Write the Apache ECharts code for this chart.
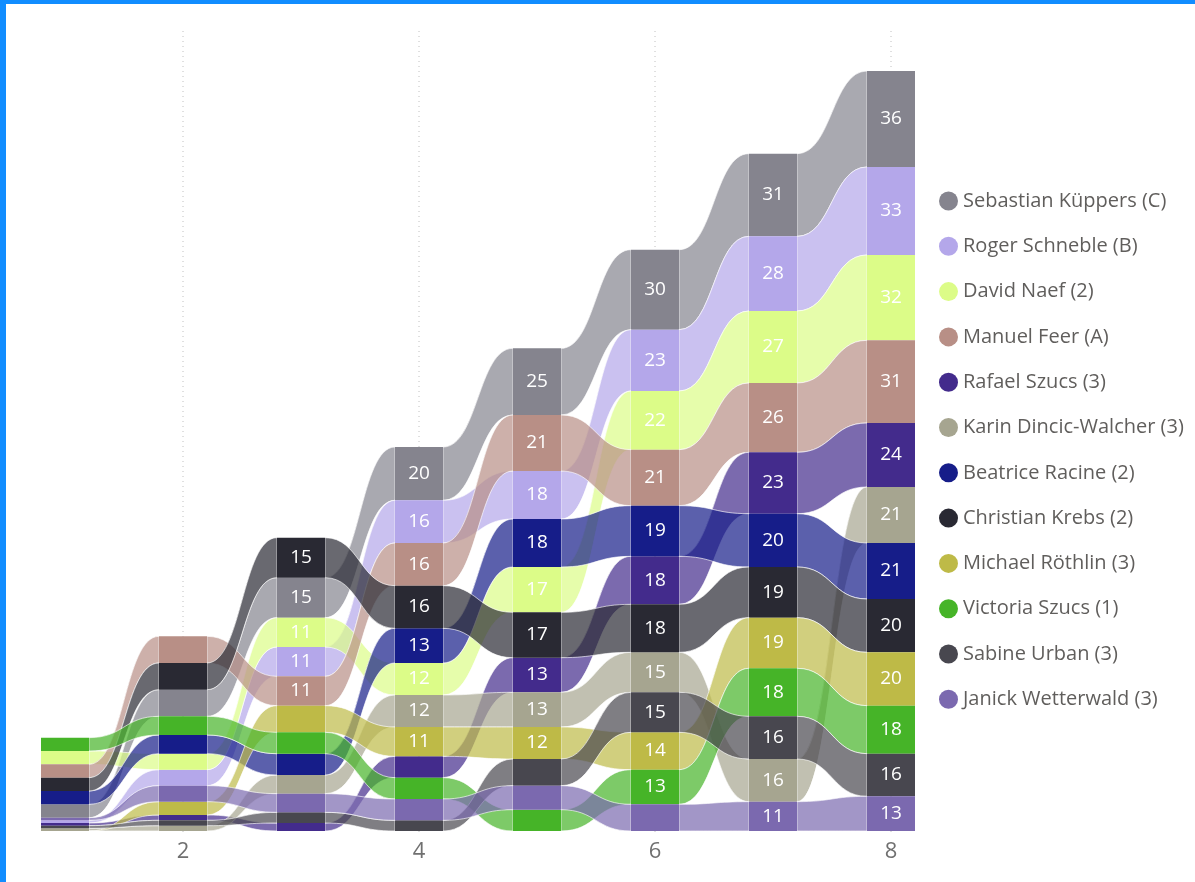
<!DOCTYPE html>
<html><head><meta charset="utf-8">
<script src="https://cdn.jsdelivr.net/npm/echarts@6/dist/echarts.min.js"></script>
<style>
html,body{margin:0;padding:0;background:#fff;overflow:hidden;}
#chart{position:absolute;left:0;top:0;width:1195px;height:882px;}
#bt{position:absolute;left:0;top:0;width:1195px;height:4px;background:#118DFF;}
#bl{position:absolute;left:0;top:0;width:6px;height:882px;background:#118DFF;}
</style></head><body>
<div id="chart"></div><div id="bt"></div><div id="bl"></div>
<script>
// ---- data ----
const rounds = ['1', '2', '3', '4', '5', '6', '7', '8'];
const names = [
  'Sebastian Küppers (C)', 'Roger Schneble (B)', 'David Naef (2)', 'Manuel Feer (A)',
  'Rafael Szucs (3)', 'Karin Dincic-Walcher (3)', 'Beatrice Racine (2)', 'Christian Krebs (2)',
  'Michael Röthlin (3)', 'Victoria Szucs (1)', 'Sabine Urban (3)', 'Janick Wetterwald (3)'
];
const sebastian = [5, 10, 15, 20, 25, 30, 31, 36];
const roger     = [1, 6, 11, 16, 18, 23, 28, 33];
const david     = [5, 6, 11, 12, 17, 22, 27, 32];
const manuel    = [5, 10, 11, 16, 21, 21, 26, 31];
const rafael    = [1, 2, 3, 8, 13, 18, 23, 24];
const karin     = [1, 2, 7, 12, 13, 15, 16, 21];
const beatrice  = [5, 7, 8, 13, 18, 19, 20, 21];
const christian = [5, 10, 15, 16, 17, 18, 19, 20];
const michael   = [0, 5, 10, 11, 12, 14, 19, 20];
const victoria  = [5, 7, 8, 8, 8, 13, 18, 18];
const sabine    = [1, 2, 4, 4, 10, 15, 16, 16];
const janick    = [1, 6, 7, 8, 9, 10, 11, 13];
// ranking per round, top to bottom (indices into names)
const rank1 = [9, 2, 3, 7, 6, 0, 11, 1, 4, 10, 5, 8];
const rank2 = [3, 7, 0, 9, 6, 2, 1, 11, 8, 4, 10, 5];
const rank3 = [7, 0, 2, 1, 3, 8, 9, 6, 5, 11, 10, 4];
const rank4 = [0, 1, 3, 7, 6, 2, 5, 8, 4, 9, 11, 10];
const rank5 = [0, 3, 1, 6, 2, 7, 4, 5, 8, 10, 11, 9];
const rank6 = [0, 1, 2, 3, 6, 4, 7, 5, 10, 8, 9, 11];
const rank7 = [0, 1, 2, 3, 4, 6, 7, 8, 9, 10, 5, 11];
const rank8 = [0, 1, 2, 3, 4, 5, 6, 7, 8, 9, 10, 11];
const tickEvery = 2;

// ---- styles ----
const colors = ['#85848E', '#B4A7EA', '#DCFC88', '#B88F86', '#432B8C', '#A6A590',
  '#161D89', '#292933', '#BEBA47', '#46B428', '#48474F', '#7B69AF'];
const FONT = '"Segoe UI", "Open Sans", sans-serif';

const values = [sebastian, roger, david, manuel, rafael, karin, beatrice, christian,
  michael, victoria, sabine, janick];
const ranks = [rank1, rank2, rank3, rank4, rank5, rank6, rank7, rank8];

// stack positions from ranking
const lo = values.map(() => []), hi = values.map(() => []);
ranks.forEach((order, r) => {
  let cum = 0;
  for (let k = order.length - 1; k >= 0; k--) {
    const s = order[k];
    lo[s][r] = cum; cum += values[s][r]; hi[s][r] = cum;
  }
});

const BAR_FRAC = 48 / 118;

function makeRender(color) {
  return function (params, api) {
    const r = api.value(0), v = api.value(1);
    const bw = api.size([1, 0])[0] * BAR_FRAC;
    const pT = api.coord([r, api.value(3)]), pB = api.coord([r, api.value(2)]);
    const children = [];
    if (r < rounds.length - 1) {
      const qT = api.coord([r + 1, api.value(5)]), qB = api.coord([r + 1, api.value(4)]);
      const x0 = pT[0] + bw / 2, x1 = qT[0] - bw / 2, xm = (x0 + x1) / 2;
      const d = 'M' + x0 + ' ' + pT[1] + ' C' + xm + ' ' + pT[1] + ' ' + xm + ' ' + qT[1] + ' ' + x1 + ' ' + qT[1] +
        ' L' + x1 + ' ' + qB[1] + ' C' + xm + ' ' + qB[1] + ' ' + xm + ' ' + pB[1] + ' ' + x0 + ' ' + pB[1] + ' Z';
      children.push({ type: 'path', shape: { pathData: d },
        style: { fill: color, opacity: 0.7, stroke: 'rgba(255,255,255,0.9)', lineWidth: 1 } });
    }
    children.push({ type: 'rect', shape: { x: pT[0] - bw / 2, y: pT[1], width: bw, height: pB[1] - pT[1] },
      style: { fill: color } });
    if (pB[1] - pT[1] >= 28) {
      children.push({ type: 'text', z2: 10, style: { text: String(v), x: pT[0], y: (pT[1] + pB[1]) / 2,
        align: 'center', verticalAlign: 'middle', fill: '#ffffff', font: '19px ' + FONT } });
    }
    return { type: 'group', children: children };
  };
}

const series = names.map((name, s) => ({
  name: name, type: 'custom', renderItem: makeRender(colors[s]),
  itemStyle: { color: colors[s] },
  encode: { x: 0, y: 3 },
  data: rounds.map((_, r) => [r, values[s][r], lo[s][r], hi[s][r],
    r < rounds.length - 1 ? lo[s][r + 1] : 0, r < rounds.length - 1 ? hi[s][r + 1] : 0]),
  z: 2
}));

// dotted vertical guides at labelled rounds
series.unshift({
  type: 'custom', silent: true, z: 1,
  data: rounds.map((_, r) => [r]).filter(d => (d[0] + 1) % tickEvery === 0),
  renderItem: function (params, api) {
    const top = api.coord([api.value(0), 300]), bot = api.coord([api.value(0), 0]);
    return { type: 'line', shape: { x1: top[0], y1: top[1], x2: bot[0], y2: bot[1] + 4 },
      style: { stroke: '#c0c0c0', lineWidth: 1, lineDash: [1, 4] } };
  },
  encode: { x: 0 }
});

const chart = echarts.init(document.getElementById('chart'), null, { renderer: 'canvas' });
chart.setOption({
  animation: false,
  grid: { left: 6, right: 245, top: 31, bottom: 51, containLabel: false },
  xAxis: {
    type: 'category', data: rounds, boundaryGap: true,
    axisLine: { show: false }, axisTick: { show: false }, splitLine: { show: false },
    axisLabel: { interval: (i) => (i + 1) % tickEvery === 0, color: '#707070', fontSize: 22,
      fontFamily: FONT, margin: 10 }
  },
  yAxis: { type: 'value', min: 0, max: 300, show: false, splitLine: { show: false } },
  legend: {
    data: names, orient: 'vertical', left: 939, top: 191, padding: 0, itemWidth: 19, itemHeight: 19,
    itemGap: 25.3, icon: 'circle',
    textStyle: { color: '#605E5C', fontSize: 20, fontFamily: FONT, lineHeight: 19 }
  },
  series: series
});
</script>
</body></html>
